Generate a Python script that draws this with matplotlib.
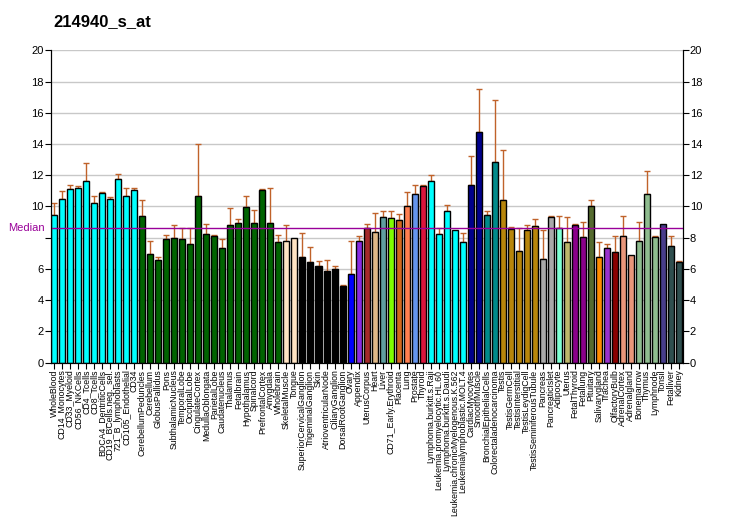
import matplotlib
matplotlib.use("Agg")
import matplotlib.pyplot as plt
import numpy as np

plt.rcParams['font.family'] = ['Liberation Sans', 'DejaVu Sans']

# tissues / cell types, left to right
labels = ["WholeBlood", "CD14_Monocytes", "CD33_Myeloid", "CD56_NKCells", "CD4_Tcells",
          "CD8_Tcells", "BDCA4_DentriticCells", "CD19_BCells.neg._sel.", "721_B_lymphoblasts",
          "CD105_Endothelial", "CD34", "CerebellumPeduncles", "Cerebellum", "GlobusPallidus",
          "Pons", "SubthalamicNucleus", "TemporalLobe", "OccipitalLobe", "CingulateCortex",
          "MedullaOblongata", "ParietalLobe", "Caudatenucleus", "Thalamus", "Fetalbrain",
          "Hypothalamus", "Spinalcord", "PrefrontalCortex", "Amygdala", "Wholebrain",
          "SkeletalMuscle", "Tongue", "SuperiorCervicalGanglion", "TrigeminalGanglion", "Skin",
          "AtrioventricularNode", "CiliaryGanglion", "DorsalRootGanglion", "Ovary", "Appendix",
          "UterusCorpus", "Heart", "Liver", "CD71_Early.Erythroid", "Placenta", "Lung",
          "Prostate", "Thyroid", "Lymphoma.burkitt.s.Raji", "Leukemia.promyelocytic.HL.60",
          "Lymphoma.burkitt.s.Daudi", "Leukemia.chronicMyelogenous.K.562",
          "Leukemialymphoblastic.MOLT.4", "CardiacMyocytes", "SmoothMuscle",
          "BronchialEpithelialCells", "Colorectaladenocarcinoma", "Testis", "TestisGermCell",
          "TestisInterstitial", "TestisLeydigCell", "TestisSeminiferousTubule", "Pancreas",
          "PancreaticIslet", "Adipocyte", "Uterus", "FetalThyroid", "Fetallung", "Pituitary",
          "Salivarygland", "Trachea", "OlfactoryBulb", "AdrenalCortex", "Adrenalgland",
          "Bonemarrow", "Thymus", "Lymphnode", "Tonsil", "Fetalliver", "Kidney"]

values = [9.46, 10.46, 11.10, 11.16, 11.61, 10.20, 10.84, 10.46, 11.74, 10.65, 11.04,
          9.37, 6.94, 6.55, 7.90, 7.96, 7.90, 7.58, 10.65, 8.22, 8.09, 7.32, 8.79, 8.92,
          9.95, 8.92, 11.04, 8.92, 7.71, 7.77, 7.96, 6.74, 6.42, 6.17, 5.87, 5.98, 4.89,
          5.66, 7.77, 8.60, 8.35, 9.31, 9.24, 9.11, 10.01, 10.78, 11.29, 11.61, 8.22, 9.69,
          8.47, 7.71, 11.36, 14.75, 9.43, 12.83, 10.39, 8.54, 7.13, 8.47, 8.73, 6.62, 9.31,
          8.60, 7.71, 8.79, 8.03, 10.01, 6.74, 7.32, 7.07, 8.09, 6.87, 7.77, 10.78, 8.03,
          8.86, 7.45, 6.42]

sd = [0.74, 0.51, 0.26, 0.13, 1.15, 0.45, 0.06, 0.13, 0.32, 0.51, 0.12,
      1.02, 0.83, 0.19, 0.25, 0.83, 0.70, 1.02, 3.33, 0.64, 0.06, 0.58, 1.09, 0.26,
      0.70, 0.83, 0.06, 2.24, 0.44, 1.02, 0.0, 1.54, 0.97, 0.32, 0.68, 0.19, 0.06,
      2.11, 0.32, 0.26, 1.21, 0.38, 0.45, 0.39, 0.89, 0.58, 0.07, 0.39, 0.38, 0.38,
      0.0, 0.57, 1.85, 2.75, 0.26, 3.97, 3.21, 0.13, 1.47, 0.32, 0.45, 1.85, 0.06,
      0.77, 1.60, 0.07, 0.96, 0.38, 0.97, 0.26, 1.02, 1.28, 0.0, 1.22, 1.47, 0.06,
      0.0, 0.64, 0.07]

# colour groups (colour, number of bars)
groups = [("#00FFFF", 11), ("#006400", 18), ("#FFE4C4", 2), ("#000000", 6), ("#0000FF", 1),
          ("#8A2BE2", 1), ("#A52A2A", 1), ("#DEB887", 1), ("#5F9EA0", 1), ("#7FFF00", 1),
          ("#D2691E", 1), ("#FF7F50", 1), ("#6495ED", 1), ("#DC143C", 1), ("#00FFFF", 5),
          ("#00008B", 2), ("#008B8B", 2), ("#B8860B", 5), ("#A9A9A9", 2), ("#7FFFD4", 1),
          ("#BDB76B", 1), ("#8B008B", 2), ("#556B2F", 1), ("#FF8C00", 1), ("#9932CC", 1),
          ("#8B0000", 1), ("#E9967A", 2), ("#8FBC8F", 3), ("#483D8B", 1), ("#2F4F4F", 2)]
median = 8.6

colors = []
for c, n in groups:
    colors += [c] * n

x = np.arange(len(values))
vals = np.array(values)
err = np.array(sd)

fig = plt.figure(figsize=(7.32, 5.30), dpi=100)
ax = fig.add_axes([0.0693, 0.3157, 0.8634, 0.5894])

for yy in range(2, 21, 2):
    ax.axhline(yy, color="#c8c8c8", lw=1, zorder=0)

# only the upper whisker is visible, the lower one hides behind the bar
m = err > 0
ax.errorbar(x[m], vals[m], yerr=[np.zeros(m.sum()), err[m]], fmt="none",
            ecolor="#C0622A", elinewidth=1, capsize=2.5, capthick=1, zorder=1)
ax.bar(x, vals, width=0.75, color=colors, edgecolor="black", linewidth=1, zorder=2)

ax.axhline(median, color="#990099", lw=1, zorder=3)
ax.text(-1.2, median, "Median", color="#990099", fontsize=8,
        ha="right", va="center", clip_on=False)

ax.set_xlim(-0.45, len(values) - 0.5)
ax.set_ylim(0, 20)
ax.set_yticks(range(0, 21, 2))
ax.set_yticklabels([str(v) if v != 8 else "" for v in range(0, 21, 2)])
ax.set_xticks(x)
ax.set_xticklabels(labels, rotation=90, fontsize=6.3)
ax.tick_params(axis="x", length=4, pad=1)
ax.tick_params(axis="y", labelsize=8, length=4, pad=1)
ax.spines["top"].set_visible(False)

ax2 = ax.twinx()
ax2.set_ylim(0, 20)
ax2.set_yticks(range(0, 21, 2))
ax2.tick_params(axis="y", labelsize=8, length=4, pad=1)
ax2.spines["top"].set_visible(False)

fig.text(53 / 732, 1 - 22 / 530, "214940_s_at", fontsize=12, fontweight="bold",
         ha="left", va="center")

fig.savefig("out.png", dpi=100)
